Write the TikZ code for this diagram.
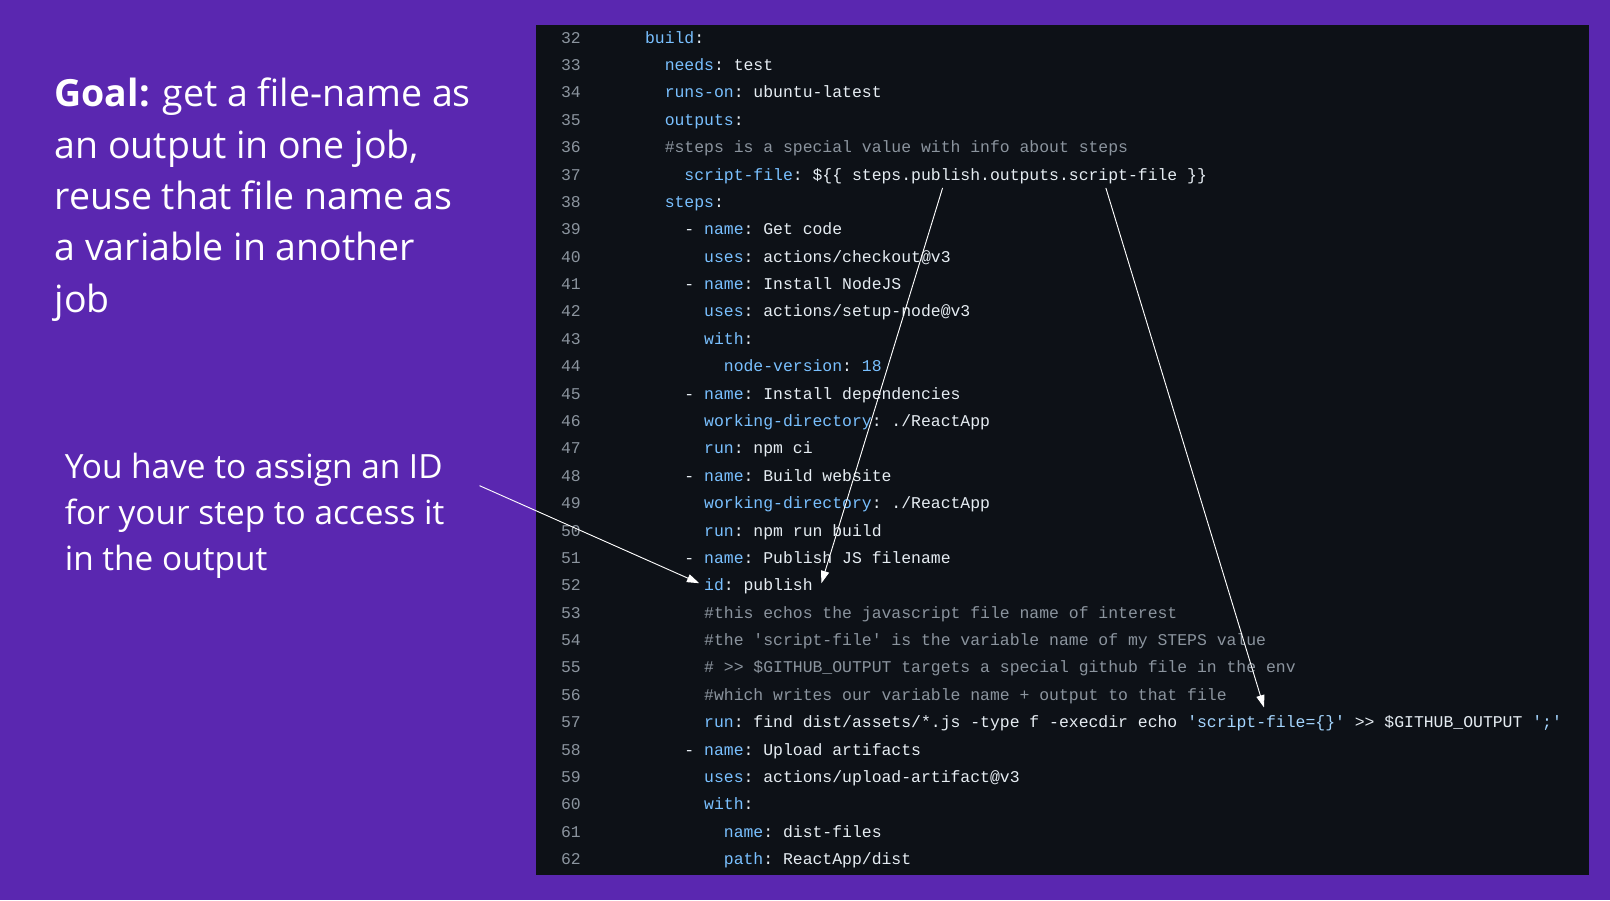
\documentclass[tikz,border=0pt]{standalone}
\usepackage{fontspec}
\setmainfont{Open Sans}
\setmonofont{Liberation Mono}
\usetikzlibrary{arrows.meta}
\definecolor{bgp}{HTML}{5A27B0}
\definecolor{panel}{HTML}{0D1117}
\definecolor{kw}{HTML}{79C0FF}
\definecolor{tx}{HTML}{E6EDF3}
\definecolor{cm}{HTML}{8B949E}
\definecolor{ln}{HTML}{8B949E}
\definecolor{st}{HTML}{A5D6FF}
\newcommand{\K}[1]{\textcolor{kw}{#1}}
\newcommand{\C}[1]{\textcolor{cm}{#1}}
\tikzset{code/.style={anchor=base west,inner sep=0pt,text=tx,font=\ttfamily\fontsize{16}{16}\selectfont},
lnum/.style={anchor=base,inner sep=0pt,text=ln,font=\ttfamily\fontsize{16}{16}\selectfont},
big/.style={anchor=north west,align=left,text=white,inner sep=0pt},
arr/.style={draw=white,line width=0.9pt,-{Triangle[length=12pt,width=8pt]}}}
\begin{document}
\begin{tikzpicture}[x=1pt,y=-1pt]
\fill[bgp] (0,0) rectangle (1568,877);
\fill[panel] (522,24) rectangle (1548,852);
\foreach \n in {32,...,62}{
  \node[lnum] (n\n) at (556,{42+26.67*(\n-32)}) {\n};
}
\newcommand{\cl}[3]{\node[code] (l#1) at ({628+9.6*#2},{42+26.67*(#1-32)}) {#3};}
\cl{32}{0}{\K{build}:}
\cl{33}{2}{\K{needs}: test}
\cl{34}{2}{\K{runs-on}: ubuntu-latest}
\cl{35}{2}{\K{outputs}:}
\cl{36}{2}{\C{\#steps is a special value with info about steps}}
\cl{37}{4}{\K{script-file}: \$\{\{ steps.publish.outputs.script-file \}\}}
\cl{38}{2}{\K{steps}:}
\cl{39}{4}{- \K{name}: Get code}
\cl{40}{6}{\K{uses}: actions/checkout@v3}
\cl{41}{4}{- \K{name}: Install NodeJS}
\cl{42}{6}{\K{uses}: actions/setup-node@v3}
\cl{43}{6}{\K{with}:}
\cl{44}{8}{\K{node-version}: \K{18}}
\cl{45}{4}{- \K{name}: Install dependencies}
\cl{46}{6}{\K{working-directory}: ./ReactApp}
\cl{47}{6}{\K{run}: npm ci}
\cl{48}{4}{- \K{name}: Build website}
\cl{49}{6}{\K{working-directory}: ./ReactApp}
\cl{50}{6}{\K{run}: npm run build}
\cl{51}{4}{- \K{name}: Publish JS filename}
\cl{52}{6}{\K{id}: publish}
\cl{53}{6}{\C{\#this echos the javascript file name of interest}}
\cl{54}{6}{\C{\#the 'script-file' is the variable name of my STEPS value}}
\cl{55}{6}{\C{\# >> \$GITHUB\_OUTPUT targets a special github file in the env}}
\cl{56}{6}{\C{\#which writes our variable name + output to that file}}
\cl{57}{6}{\K{run}: find dist/assets/*.js -type f -execdir echo \textcolor{st}{'script-file=\{\}'} >> \$GITHUB\_OUTPUT \textcolor{st}{';'}}
\cl{58}{4}{- \K{name}: Upload artifacts}
\cl{59}{6}{\K{uses}: actions/upload-artifact@v3}
\cl{60}{6}{\K{with}:}
\cl{61}{8}{\K{name}: dist-files}
\cl{62}{8}{\K{path}: ReactApp/dist}
\node[big,font=\fontsize{36.5}{50}\selectfont] (goal) at (53,76) {\textbf{Goal:} get a file-name as\\an output in one job,\\reuse that file name as\\a variable in another\\job};
\node[big,font=\fontsize{32.5}{45}\selectfont] (idnote) at (63,441) {You have to assign an ID\\for your step to access it\\in the output};
\coordinate (a1s) at (467,473); \coordinate (a1e) at (681,568);
\coordinate (a2s) at (918,183); \coordinate (a2e) at (800,568);
\coordinate (a3s) at (1077,183); \coordinate (a3e) at (1231,689);
\draw[arr] (a1s) -- (a1e);
\draw[arr] (a2s) -- (a2e);
\draw[arr] (a3s) -- (a3e);
\end{tikzpicture}
\end{document}
